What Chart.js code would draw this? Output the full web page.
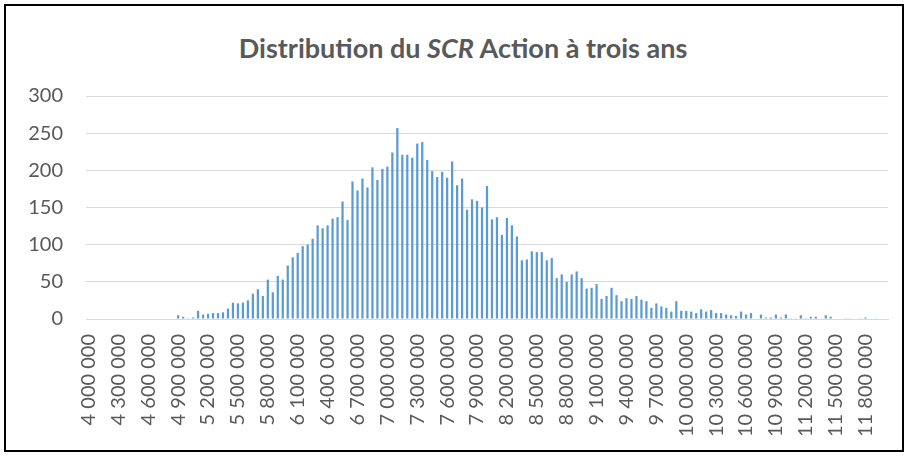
<!DOCTYPE html>
<html>
<head>
<meta charset="utf-8">
<script src="https://cdn.jsdelivr.net/npm/chart.js@4"></script>
<style>
    html, body { margin: 0; padding: 0; background: #fff; }
    #wrap { position: relative; width: 908px; height: 456px; }
    #frame { position: absolute; left: 4px; top: 4px; width: 896px; height: 444px; border: 2px solid #000; }
    #title {
        position: absolute; left: 0; top: 30px; width: 926px; text-align: center;
        font-family: Lato, sans-serif; font-weight: bold; font-size: 27px; line-height: 36px; color: #595959;
    }
    canvas { position: absolute; left: 0; top: 0; }
</style>
</head>
<body>
<div id="wrap">
    <div id="frame"></div>
    <div id="title">Distribution du <i>SCR</i> Action à trois ans</div>
    <canvas id="scrChart" width="908" height="456"></canvas>
</div>
<script>
// histogram bins: 50 000 wide, starting at 4 000 000
const binStart = 4000000;
const binWidth = 50000;

// count of simulations in each bin
const counts = [
    0, 0, 0, 0, 0, 0, 0, 0, 0, 0, 0, 0, 0, 0, 0, 0, 0, 0,
    5, 3, 1, 2, 11, 6, 7, 8, 8, 9, 14, 22, 21, 22, 25, 34, 40, 31,
    53, 36, 58, 53, 72, 83, 89, 98, 100, 108, 126, 122, 126, 135, 137, 158,
    133, 185, 173, 189, 177, 204, 187, 202, 205, 224, 257, 221, 221, 217, 236, 238,
    214, 199, 191, 198, 190, 212, 180, 189, 147, 161, 159, 150, 179, 134, 137, 113,
    136, 126, 111, 79, 80, 91, 90, 90, 79, 82, 55, 60, 50, 60, 64, 55,
    41, 42, 47, 27, 31, 42, 32, 24, 28, 27, 31, 26, 24, 15, 21, 17,
    15, 10, 24, 11, 11, 10, 8, 13, 10, 12, 8, 8, 6, 5, 4, 10,
    6, 8, 0, 6, 2, 2, 6, 2, 6, 1, 1, 5, 1, 3, 3, 0,
    5, 3, 0, 0, 1, 1, 0, 1, 2, 0, 1, 0, 0
];

// one label every 6 bins
const tickLabels = [
    '4 000 000', '4 300 000', '4 600 000', '4 900 000', '5 200 000', '5 500 000',
    '5 800 000', '6 100 000', '6 400 000', '6 700 000', '7 000 000', '7 300 000',
    '7 600 000', '7 900 000', '8 200 000', '8 500 000', '8 800 000', '9 100 000',
    '9 400 000', '9 700 000', '10 000 000', '10 300 000', '10 600 000', '10 900 000',
    '11 200 000', '11 500 000', '11 800 000'
];
const labelEvery = 6;

const yTicks = [0, 50, 100, 150, 200, 250, 300];

const categories = counts.map((c, i) => binStart + i * binWidth);

const grey = '#595959';
const tickFont = { family: 'Lato, sans-serif', size: 20 };

function renderChart() {
    const ctx = document.getElementById('scrChart').getContext('2d');
    new Chart(ctx, {
        type: 'bar',
        data: {
            labels: categories,
            datasets: [{
                data: counts,
                backgroundColor: '#5b9bd5',
                categoryPercentage: 1,
                barPercentage: 0.45
            }]
        },
        options: {
            responsive: false,
            animation: false,
            layout: { padding: { left: 0, right: 20, top: 96, bottom: 0 } },
            plugins: {
                legend: { display: false },
                title: { display: false },
                tooltip: { enabled: false }
            },
            scales: {
                x: {
                    grid: { display: false, drawTicks: false },
                    border: { color: '#d9d9d9', width: 1 },
                    ticks: {
                        autoSkip: false,
                        maxRotation: 90,
                        minRotation: 90,
                        padding: 15,
                        color: grey,
                        font: tickFont,
                        callback: (v, i) => i % labelEvery === 0 ? tickLabels[i / labelEvery] : ''
                    },
                    afterFit: (scale) => {
                        scale.height = 137;
                        scale.paddingLeft = 0;
                        scale.paddingRight = 0;
                    }
                },
                y: {
                    min: yTicks[0],
                    max: yTicks[yTicks.length - 1],
                    afterBuildTicks: (scale) => { scale.ticks = yTicks.map(v => ({ value: v })); },
                    grid: { color: '#d9d9d9', lineWidth: 1, drawTicks: false },
                    border: { display: false },
                    ticks: { padding: 23, color: grey, font: tickFont },
                    afterFit: (scale) => {
                        scale.width = 86;
                        scale.paddingTop = 0;
                        scale.paddingBottom = 0;
                    }
                }
            }
        }
    });
}

document.addEventListener('DOMContentLoaded', renderChart);
</script>
</body>
</html>
